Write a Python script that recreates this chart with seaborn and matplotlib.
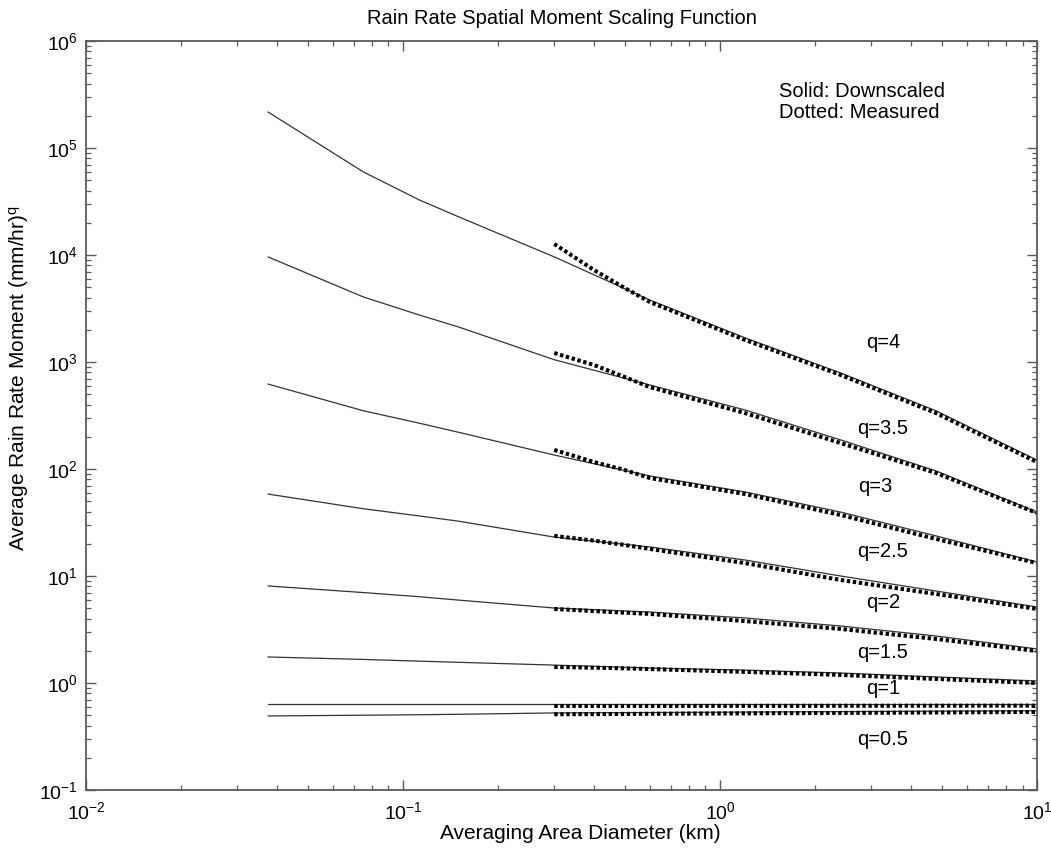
import numpy as np
import pandas as pd
import matplotlib
matplotlib.use("Agg")
import matplotlib.pyplot as plt
import seaborn as sns
from matplotlib.ticker import LogLocator, NullFormatter

sns.set_style("ticks")
plt.rcParams['font.family'] = ['Liberation Sans', 'DejaVu Sans']
plt.rcParams['mathtext.fontset'] = 'custom'
plt.rcParams['mathtext.rm'] = 'Liberation Sans'
plt.rcParams['mathtext.it'] = 'Liberation Sans'
plt.rcParams['mathtext.bf'] = 'Liberation Sans:bold'
plt.rcParams['text.color'] = 'black'
plt.rcParams['axes.labelcolor'] = 'black'

# moment orders
q_values = [4, 3.5, 3, 2.5, 2, 1.5, 1, 0.5]

# downscaled (solid) curves
x_solid = [0.0375, 0.075, 0.1125, 0.15, 0.3, 0.6, 1.2, 2.4, 4.8, 10]
solid_q4 = [2.17e5, 5.97e4, 3.27e4, 2.27e4, 9.6e3, 3.8e3, 1.68e3, 790, 350, 121]
solid_q35 = [9.6e3, 4.05e3, 2.75e3, 2.12e3, 1.05e3, 610, 356, 187, 96, 39.6]
solid_q3 = [622, 350, 268, 220, 135, 86.1, 61.0, 39.6, 23.7, 13.5]
solid_q25 = [58.3, 42.5, 36.4, 32.5, 23.1, 18.7, 14.1, 10.0, 7.24, 5.13]
solid_q2 = [8.07, 7.0, 6.4, 5.95, 5.02, 4.61, 4.05, 3.41, 2.75, 2.08]
solid_q15 = [1.75, 1.66, 1.60, 1.56, 1.47, 1.38, 1.32, 1.24, 1.14, 1.045]
solid_q1 = [0.637, 0.637, 0.637, 0.637, 0.637, 0.637, 0.637, 0.637, 0.637, 0.637]
solid_q05 = [0.492, 0.500, 0.505, 0.510, 0.525, 0.530, 0.535, 0.540, 0.545, 0.55]

# measured (dotted) curves
x_meas = [0.3, 0.4, 0.5, 0.6, 1.2, 2.4, 4.8, 10]
meas_q4 = [12680, 7244, 4920, 3639, 1607, 757, 333, 116]
meas_q35 = [1213, 938, 724, 583, 333, 175, 91.8, 38.8]
meas_q3 = [150.7, 116.1, 97.9, 82.4, 58.3, 37.2, 22.2, 13.2]
meas_q25 = [23.7, 21.4, 19.5, 17.9, 13.2, 9.18, 6.79, 4.92]
meas_q2 = [4.92, 4.70, 4.54, 4.42, 3.79, 3.20, 2.58, 1.99]
meas_q15 = [1.41, 1.39, 1.37, 1.35, 1.27, 1.19, 1.09, 1.0]
meas_q1 = [0.61, 0.61, 0.61, 0.61, 0.611, 0.612, 0.613, 0.614]
meas_q05 = [0.51, 0.512, 0.514, 0.515, 0.52, 0.525, 0.53, 0.536]

solid_curves = [solid_q4, solid_q35, solid_q3, solid_q25, solid_q2, solid_q15, solid_q1, solid_q05]
meas_curves = [meas_q4, meas_q35, meas_q3, meas_q25, meas_q2, meas_q15, meas_q1, meas_q05]

df_solid = pd.concat([pd.DataFrame({'x': x_solid, 'y': ys, 'q': q})
                      for q, ys in zip(q_values, solid_curves)], ignore_index=True)
df_meas = pd.concat([pd.DataFrame({'x': x_meas, 'y': ys, 'q': q})
                     for q, ys in zip(q_values, meas_curves)], ignore_index=True)

fig = plt.figure(figsize=(10.51, 8.5), dpi=100)
ax = fig.add_axes([0.0818, 0.0706, 0.9049, 0.8812])

sns.lineplot(data=df_solid, x='x', y='y', units='q', estimator=None, ax=ax,
             color='#333333', linewidth=0.9)
sns.lineplot(data=df_meas, x='x', y='y', units='q', estimator=None, ax=ax,
             color='black', linewidth=2.9, linestyle=(0, (0.85, 0.65)))

ax.set_xscale('log')
ax.set_yscale('log')
ax.set_xlim(1e-2, 1e1)
ax.set_ylim(1e-1, 1e6)

ax.xaxis.set_major_locator(LogLocator(base=10, numticks=10))
ax.yaxis.set_major_locator(LogLocator(base=10, numticks=10))
ax.xaxis.set_minor_locator(LogLocator(base=10, subs=np.arange(2, 10), numticks=20))
ax.yaxis.set_minor_locator(LogLocator(base=10, subs=np.arange(2, 10), numticks=20))
ax.xaxis.set_minor_formatter(NullFormatter())
ax.yaxis.set_minor_formatter(NullFormatter())

frame_col = '#5a5a5a'
for sp in ax.spines.values():
    sp.set_visible(True)
    sp.set_color(frame_col)
    sp.set_linewidth(1.3)

ax.tick_params(which='both', direction='in', top=True, right=True, color=frame_col,
               labelcolor='black')
ax.tick_params(which='major', length=7, width=1.0, labelsize=14)
ax.tick_params(which='minor', length=3.4, width=0.9)
ax.tick_params(axis='y', which='major', pad=6)
ax.tick_params(axis='x', which='major', pad=8)

ax.set_title('Rain Rate Spatial Moment Scaling Function', fontsize=14.5, pad=12)
ax.set_xlabel('Averaging Area Diameter (km)', fontsize=15)
ax.set_ylabel('Average Rain Rate Moment (mm/hr)$^{q}$', fontsize=15)
ax.xaxis.set_label_coords(0.52, -0.046)
ax.yaxis.set_label_coords(-0.058, 0.55)

ax.text(0.729, 0.945, 'Solid: Downscaled\nDotted: Measured', transform=ax.transAxes,
        ha='left', va='top', fontsize=14.5, linespacing=1.15)

label_pos = [(0.838, 0.597), (0.838, 0.483), (0.830, 0.405), (0.838, 0.319),
             (0.838, 0.250), (0.838, 0.184), (0.838, 0.136), (0.838, 0.067)]
for q, (lx, ly) in zip(q_values, label_pos):
    ax.text(lx, ly, f'q={q:g}', transform=ax.transAxes, ha='center', va='center',
            fontsize=14.5)

fig.savefig('out.png', dpi=100)
